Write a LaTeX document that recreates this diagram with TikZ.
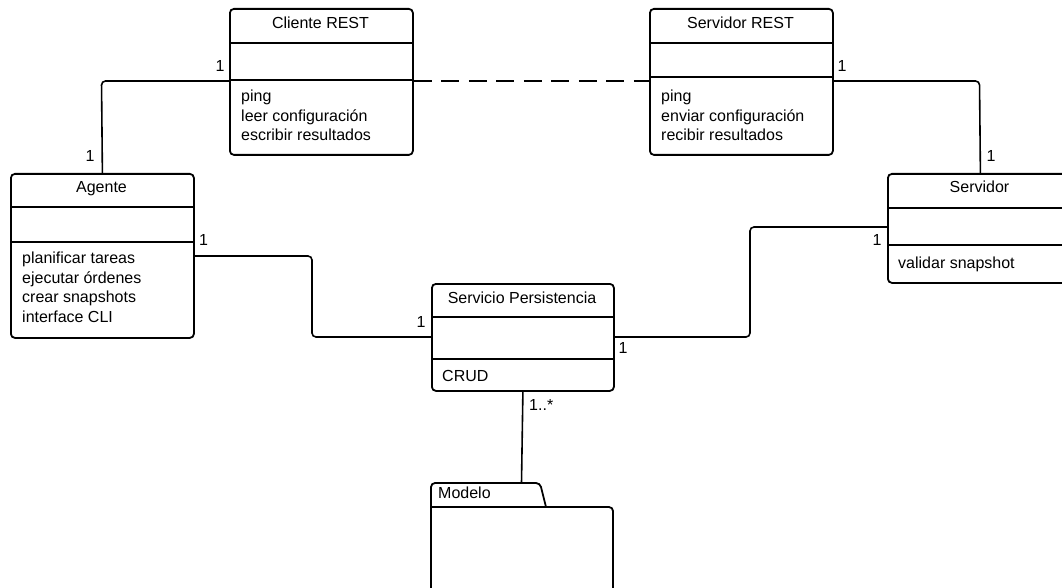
\documentclass[tikz,border=0pt]{standalone}
\usepackage{fontspec}
\setmainfont{Liberation Sans}
\begin{document}
\begin{tikzpicture}[x=1pt,y=-1pt]
\tikzset{
  cls/.style={draw, line width=1.8pt, rounded corners=4pt, anchor=north west, inner sep=0pt},
  sepline/.style={line width=1.8pt},
  conn/.style={line width=1.6pt, rounded corners=4pt},
  txt/.style={font=\fontsize{16}{19.5}\selectfont, inner sep=0pt},
  ttl/.style={txt, anchor=base},
  mth/.style={txt, anchor=base west},
  mult/.style={txt, anchor=base},
}
\clip (0,0) rectangle (1062,588);
% class boxes
\node[cls, minimum width=183pt, minimum height=146pt] (cli) at (229,8) {};
\node[cls, minimum width=183pt, minimum height=146pt] (srr) at (649,8) {};
\node[cls, minimum width=183pt, minimum height=164pt] (age) at (10,173) {};
\node[cls, minimum width=185pt, minimum height=109pt] (srv) at (887,173) {};
\node[cls, minimum width=182pt, minimum height=107pt] (per) at (431,283) {};
% compartments
\draw[sepline] (cli.west |- 0,43) -- (cli.east |- 0,43);
\draw[sepline] (cli.west |- 0,80) -- (cli.east |- 0,80);
\draw[sepline] (srr.west |- 0,43) -- (srr.east |- 0,43);
\draw[sepline] (srr.west |- 0,77) -- (srr.east |- 0,77);
\draw[sepline] (age.west |- 0,207) -- (age.east |- 0,207);
\draw[sepline] (age.west |- 0,242) -- (age.east |- 0,242);
\draw[sepline] (srv.west |- 0,208) -- (srv.east |- 0,208);
\draw[sepline] (srv.west |- 0,245) -- (srv.east |- 0,245);
\draw[sepline] (per.west |- 0,317) -- (per.east |- 0,317);
\draw[sepline] (per.west |- 0,359) -- (per.east |- 0,359);
% titles
\node[ttl] (cliT) at (320.5,29) {Cliente REST};
\node[ttl] (srrT) at (740.5,29) {Servidor REST};
\node[ttl] (ageT) at (101.5,193) {Agente};
\node[ttl] (srvT) at (979.5,193) {Servidor};
\node[ttl] (perT) at (522,303) {Servicio Persistencia};
% methods
\node[mth] (cliM1) at (241,102) {ping};
\node[mth] (cliM2) at (241,121.5) {leer configuración};
\node[mth] (cliM3) at (241,141) {escribir resultados};
\node[mth] (srrM1) at (661,102) {ping};
\node[mth] (srrM2) at (661,121.5) {enviar configuración};
\node[mth] (srrM3) at (661,141) {recibir resultados};
\node[mth] (ageM1) at (22,263.3) {planificar tareas};
\node[mth] (ageM2) at (22,283) {ejecutar órdenes};
\node[mth] (ageM3) at (22,302.7) {crear snapshots};
\node[mth] (ageM4) at (22,322.4) {interface CLI};
\node[mth] (srvM1) at (898,268) {validar snapshot};
\node[mth] (perM1) at (442,381) {CRUD};
% package Modelo
\draw[sepline, rounded corners=4pt] (546,507) -- (540,483) -- (431,483) -- (431,600);
\draw[sepline, rounded corners=4pt] (431,507) -- (613,507) -- (613,600);
\node[mth] (modT) at (438,498) {Modelo};
\coordinate (modtop) at (521.5,483);
% connectors
\draw[conn] (age.north) -- (101.5,81) -- (cli.west |- 0,81);
\draw[line width=1.6pt, dash pattern=on 18pt off 9.5pt] (cli.east |- 0,81) -- (srr.west |- 0,81);
\draw[conn] (srr.east |- 0,81) -- (979.5,81) -- (srv.north);
\draw[conn] (age.east |- 0,256) -- (312,256) -- (312,337) -- (per.west |- 0,337);
\draw[conn] (per.east |- 0,337) -- (750,337) -- (750,227) -- (srv.west |- 0,227);
\draw[conn] (per.south) -- (modtop);
% multiplicities
\node[mult] (m1) at (90,162) {1};
\node[mult] (m2) at (220,72) {1};
\node[mult] (m3) at (842,72) {1};
\node[mult] (m4) at (991,162) {1};
\node[mult] (m5) at (203.5,245) {1};
\node[mult] (m6) at (421,327) {1};
\node[mult] (m7) at (623,353) {1};
\node[mult] (m8) at (877,245) {1};
\node[txt, anchor=base west] (m9) at (529,410) {1..*};
\end{tikzpicture}
\end{document}
